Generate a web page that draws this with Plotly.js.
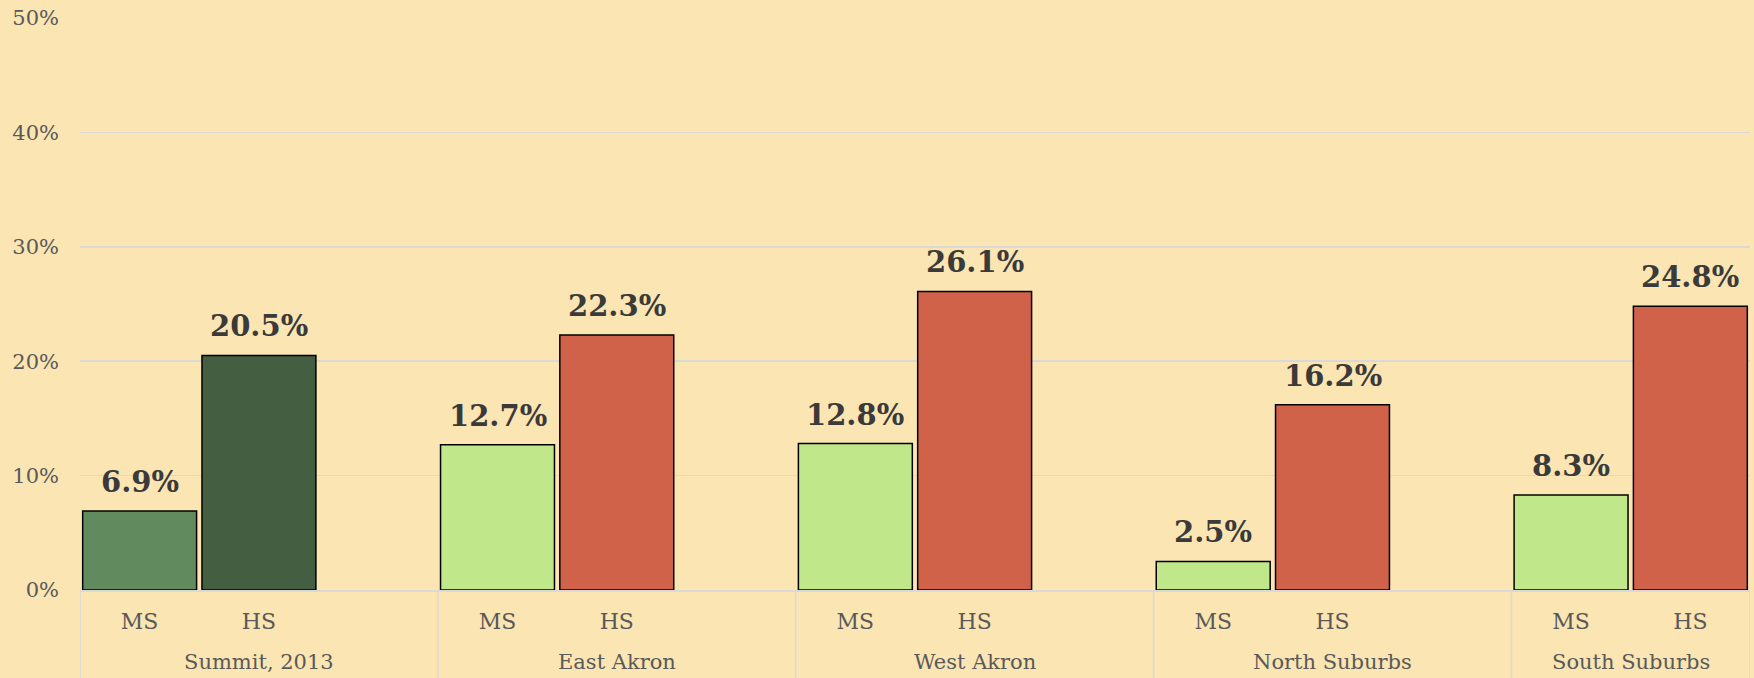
<!DOCTYPE html>
<html>
<head>
<meta charset="utf-8">
<script src="https://cdn.plot.ly/plotly-3.0.1.min.js"></script>
<style>html,body{margin:0;padding:0;background:#fae5b3;}</style>
</head>
<body>
<div id="chart" style="width:1754px;height:678px;"></div>
<script>
const groups = ['Summit, 2013', 'East Akron', 'West Akron', 'North Suburbs', 'South Suburbs'];
const levels = ['MS', 'HS'];
const msValues = [6.9, 12.7, 12.8, 2.5, 8.3];
const hsValues = [20.5, 22.3, 26.1, 16.2, 24.8];
const msColors = ['#618b5f', '#c0e88a', '#c0e88a', '#c0e88a', '#c0e88a'];
const hsColors = ['#435e41', '#d0624a', '#d0624a', '#d0624a', '#d0624a'];
const yTicks = [0, 10, 20, 30, 40, 50];

// slot layout: each group has MS, HS and one empty slot (last group: no empty slot)
const slotsPerGroup = 3;
const xPos = [], yVals = [], colors = [], tickText = [], annotations = [], shapes = [];
const lastSlot = (groups.length - 1) * slotsPerGroup + levels.length - 1;
const xRange = [-0.5, lastSlot + 0.5];

const lineStyle = {color: '#d9d9d9', width: 1.5};
groups.forEach((g, gi) => {
  const vals = [msValues[gi], hsValues[gi]];
  const cols = [msColors[gi], hsColors[gi]];
  const start = gi * slotsPerGroup;
  levels.forEach((lv, li) => {
    const x = start + li;
    xPos.push(x); yVals.push(vals[li]); colors.push(cols[li]); tickText.push(lv);
    annotations.push({
      x: x, y: vals[li], xref: 'x', yref: 'y',
      text: vals[li].toFixed(1) + '%', showarrow: false,
      yanchor: 'bottom', yshift: 10,
      font: {family: 'DejaVu Serif', size: 29, color: '#3a3a3a', weight: 'bold'}
    });
  });
  const gStart = start - 0.5;
  const gEnd = Math.min(start + slotsPerGroup - 0.5, xRange[1]);
  annotations.push({
    x: (gStart + gEnd) / 2, y: 0, xref: 'x', yref: 'paper',
    text: g, showarrow: false, yanchor: 'top', yshift: -58,
    font: {family: 'DejaVu Serif', size: 21, color: '#595959'}
  });
  shapes.push({type: 'line', xref: 'x', yref: 'paper', x0: gStart, x1: gStart, y0: 0, y1: -0.17, line: lineStyle});
  if (gi === groups.length - 1) {
    shapes.push({type: 'line', xref: 'x', yref: 'paper', x0: gEnd, x1: gEnd, y0: 0, y1: -0.17, line: lineStyle});
  }
});

const trace = {
  type: 'bar',
  x: xPos,
  y: yVals,
  width: 0.955,
  marker: {color: colors, line: {color: '#000000', width: 1.5}},
  hoverinfo: 'skip'
};

const layout = {
  width: 1754, height: 678,
  margin: {l: 80, r: 4, t: 18, b: 88},
  paper_bgcolor: '#fae5b3', plot_bgcolor: '#fae5b3',
  showlegend: false,
  font: {family: 'DejaVu Serif', color: '#595959'},
  xaxis: {
    range: xRange,
    tickvals: xPos, ticktext: tickText,
    showgrid: false, zeroline: false, ticks: '',
    showline: true, linecolor: '#d9d9d9', linewidth: 1.5,
    ticklabelstandoff: 11,
    tickfont: {family: 'DejaVu Serif', size: 22, color: '#595959'}
  },
  yaxis: {
    range: [0, 50], tickvals: yTicks, ticktext: yTicks.map(v => v + '%'),
    showgrid: true, gridcolor: '#d9d9d9', gridwidth: 1.5,
    zeroline: false, showline: false, ticks: '',
    ticklabelstandoff: 20,
    tickfont: {family: 'DejaVu Serif', size: 21, color: '#595959'}
  },
  annotations: annotations,
  shapes: shapes
};

Plotly.newPlot('chart', [trace], layout, {displayModeBar: false, staticPlot: true});
</script>
</body>
</html>
